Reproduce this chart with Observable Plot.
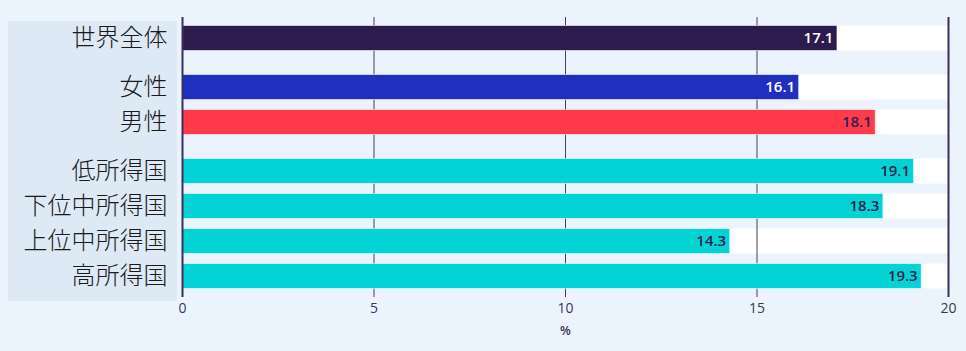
<!DOCTYPE html>
<html>
<head>
<meta charset="utf-8">
<script src="https://cdn.jsdelivr.net/npm/d3@7"></script>
<script src="https://cdn.jsdelivr.net/npm/@observablehq/plot@0.6"></script>
<style>
  html, body { margin: 0; padding: 0; background: #ebf4fd; }
  #wrap { position: relative; width: 966px; height: 351px; }
  #panel { position: absolute; background: #dde9f5; }
  #chart { position: absolute; left: 0; top: 0; }
</style>
</head>
<body>
<div id="wrap"><div id="panel"></div><div id="chart"></div></div>
<script>
const categories = ["世界全体", "女性", "男性", "低所得国", "下位中所得国", "上位中所得国", "高所得国"];
const values = [17.1, 16.1, 18.1, 19.1, 18.3, 14.3, 19.3];
const groups = [0, 1, 1, 2, 2, 2, 2];
const colors = ["#2d1b4e", "#1f2fbf", "#ff3a4c", "#04d3d5", "#04d3d5", "#04d3d5", "#04d3d5"];
const labelColors = ["#ffffff", "#ffffff", "#2b2350", "#2b2350", "#2b2350", "#2b2350", "#2b2350"];
const xTicks = [0, 5, 10, 15, 20];
const xMax = 20;
const xLabel = "%";

(function () {
  const groupGap = 0.4;
  const half = 0.357;
  const data = categories.map((c, i) => ({
    cat: c, value: values[i], pos: i + groups[i] * groupGap,
    color: colors[i], lc: labelColors[i]
  }));
  const lastPos = data[data.length - 1].pos;

  const chart = Plot.plot({
    width: 966,
    height: 351,
    marginLeft: 182,
    marginRight: 18,
    marginTop: 17,
    marginBottom: 54,
    style: { background: "transparent", fontFamily: "'Open Sans', sans-serif", overflow: "visible" },
    x: { domain: [0, xMax], axis: null },
    y: { domain: [-0.6, lastPos + 0.6], reverse: true, axis: null },
    marks: [
      Plot.rectX(data, { x1: 0, x2: xMax, y1: d => d.pos - half, y2: d => d.pos + half, fill: "white" }),
      Plot.ruleX(xTicks.filter(t => t > 0 && t < xMax), { stroke: "#45405e", strokeWidth: 1 }),
      Plot.rectX(data, { x1: 0, x2: "value", y1: d => d.pos - half, y2: d => d.pos + half, fill: "color", stroke: "white", strokeOpacity: 0.55, strokeWidth: 1 }),
      Plot.ruleX([0, xMax], { stroke: "#3a2f5b", strokeWidth: 2 }),
      Plot.text(data, { x: "value", y: "pos", text: d => d.value.toFixed(1), textAnchor: "end", dx: -4, fill: "lc", fontSize: 15, fontWeight: 600 }),
      Plot.text(data, { x: 0, y: "pos", text: "cat", textAnchor: "end", dx: -15, fill: "#1a1a1a", fontSize: 24, fontWeight: 300, fontFamily: "'Noto Sans CJK JP', sans-serif" }),
      Plot.text(xTicks, { x: d => d, frameAnchor: "bottom", dy: 15, fill: "#3b3454", fontSize: 14 }),
      Plot.text([xLabel], { frameAnchor: "bottom", dy: 37, fill: "#3b3454", fontSize: 12.5, fontWeight: 600 })
    ]
  });
  document.getElementById("chart").appendChild(chart);

  const ys = chart.scale("y");
  const panel = document.getElementById("panel");
  const pTop = ys.apply(-0.48), pBottom = ys.apply(lastPos + 0.72);
  panel.style.left = "8px";
  panel.style.width = "169px";
  panel.style.top = pTop + "px";
  panel.style.height = (pBottom - pTop) + "px";
})();
</script>
</body>
</html>
